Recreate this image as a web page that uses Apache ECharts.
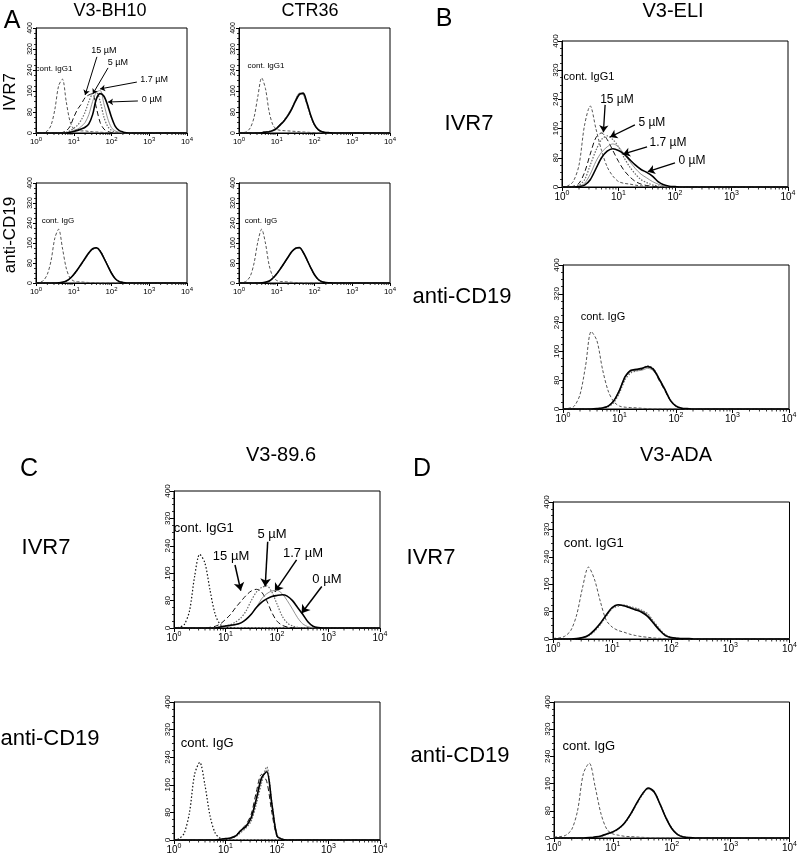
<!DOCTYPE html>
<html><head><meta charset="utf-8">
<script src="https://cdn.jsdelivr.net/npm/echarts@6/dist/echarts.min.js"></script>
<style>html,body{margin:0;padding:0;background:#fff}#c{width:800px;height:858px}</style>
</head><body><div id="c"></div>
<script>
// shared fluorescence intensity grid (log spaced, 0.1 decade)
const xs = [1,1.26,1.58,2,2.51,3.16,3.98,5.01,6.31,7.94,10,12.6,15.8,20,25.1,31.6,39.8,50.1,63.1,79.4,100,126,158,200,251,316,398,501,631,794,1000,10000];

// A: V3-BH10, IVR7
const a1Cont = [0,0,2,8,30,90,180,205,120,45, 15,10,8,8,6,5,4,3,2,1, 1,0,0,0,0,0,0,0,0,0, 0,0];
const a1M15  = [0,0,0,0,0,0,0,2,8,25, 60,90,110,135,145,150,95,40,15,6, 2,0,0,0,0,0,0,0,0,0, 0,0];
const a1M5   = [0,0,0,0,0,0,0,0,3,8, 18,30,50,80,120,150,155,120,60,25, 10,4,1,0,0,0,0,0,0,0, 0,0];
const a1M17  = [0,0,0,0,0,0,0,0,0,5, 10,15,25,40,70,120,155,162,110,55, 20,8,3,1,0,0,0,0,0,0, 0,0];
const a1M0   = [0,0,0,0,0,0,0,0,0,3, 6,10,15,22,35,70,130,150,140,105, 60,25,10,4,1,0,0,0,0,0, 0,0];
// A: CTR36, IVR7
const a2Cont = [0,1,5,20,60,140,210,170,80,30, 14,10,9,8,7,6,5,4,3,2, 1,0,0,0,0,0,0,0,0,0, 0,0];
const a2M15  = [0,0,0,0,0,0,2,4,7,11, 20,35,50,70,95,125,150,148,110,65, 30,12,4,1,0,0,0,0,0,0, 0,0];
const a2M5   = [0,0,0,0,0,0,2,4,6,10, 19,33,48,68,93,124,148,150,112,66, 31,12,4,1,0,0,0,0,0,0, 0,0];
const a2M17  = [0,0,0,0,0,0,1,3,6,10, 20,34,50,72,97,128,152,146,108,63, 29,11,4,1,0,0,0,0,0,0, 0,0];
const a2M0   = [0,0,0,0,0,0,1,3,5,9, 18,32,47,67,92,122,147,152,115,68, 32,13,5,2,1,0,0,0,0,0, 0,0];
// A: V3-BH10, anti-CD19
const a3Cont = [1,3,10,35,90,180,215,140,60,20, 8,5,4,3,2,2,1,0,0,0, 0,0,0,0,0,0,0,0,0,0, 0,0];
const a3M15  = [0,0,0,0,0,0,1,3,8,18, 35,55,75,98,120,135,140,128,100,70, 40,18,6,2,0,0,0,0,0,0, 0,0];
const a3M5   = [0,0,0,0,0,0,1,3,7,17, 33,53,74,97,119,136,142,130,101,69, 39,17,6,2,0,0,0,0,0,0, 0,0];
const a3M17  = [0,0,0,0,0,0,1,2,7,16, 32,52,73,96,118,134,139,129,102,71, 41,18,7,2,1,0,0,0,0,0, 0,0];
const a3M0   = [0,0,0,0,0,0,1,3,8,18, 34,54,76,99,121,137,141,127,99,69, 39,17,6,2,0,0,0,0,0,0, 0,0];
// A: CTR36, anti-CD19
const a4Cont = [1,2,8,28,80,165,215,160,70,25, 10,6,5,4,3,2,1,0,0,0, 0,0,0,0,0,0,0,0,0,0, 0,0];
const a4M15  = [0,0,0,0,0,0,1,3,8,20, 38,58,80,104,125,138,140,122,92,60, 32,14,5,2,0,0,0,0,0,0, 0,0];
const a4M5   = [0,0,0,0,0,0,1,3,7,19, 36,57,79,103,124,139,141,123,93,61, 33,14,5,1,0,0,0,0,0,0, 0,0];
const a4M17  = [0,0,0,0,0,0,1,2,7,18, 35,56,78,102,123,137,139,124,95,63, 34,15,6,2,0,0,0,0,0,0, 0,0];
const a4M0   = [0,0,0,0,0,0,1,3,8,20, 37,58,80,104,126,139,142,123,93,61, 33,14,5,2,1,0,0,0,0,0, 0,0];
// B: V3-ELI, IVR7
const b1Cont = [0,3,15,60,170,222,160,100,55,30, 15,10,8,5,3,2,1,0,0,0, 0,0,0,0,0,0,0,0,0,0, 0,0];
const b1M15  = [0,0,2,10,40,90,135,148,130,100, 70,45,28,15,8,4,2,1,0,0, 0,0,0,0,0,0,0,0,0,0, 0,0];
const b1M5   = [0,0,0,5,20,60,100,130,140,130, 110,80,55,35,20,12,6,3,1,0, 0,0,0,0,0,0,0,0,0,0, 0,0];
const b1M17  = [0,0,0,2,10,35,70,95,110,118, 110,90,70,50,35,25,15,8,3,1, 0,0,0,0,0,0,0,0,0,0, 0,0];
const b1M0   = [0,0,0,1,5,20,50,80,98,105, 100,90,75,60,48,40,30,15,6,2, 1,0,0,0,0,0,0,0,0,0, 0,0];
// B: V3-ELI, anti-CD19
const b2Cont = [0,2,8,40,120,215,190,110,50,20, 8,5,4,3,2,1,0,0,0,0, 0,0,0,0,0,0,0,0,0,0, 0,0];
const b2M15  = [0,0,0,0,0,0,1,3,8,22, 50,88,105,108,110,117,108,80,52,24, 8,2,0,0,0,0,0,0,0,0, 0,0];
const b2M5   = [0,0,0,0,0,0,1,2,6,18, 45,82,100,106,112,120,112,85,56,26, 9,2,0,0,0,0,0,0,0,0, 0,0];
const b2M17  = [0,0,0,0,0,0,1,3,9,24, 54,92,108,106,108,113,106,82,55,25, 8,2,0,0,0,0,0,0,0,0, 0,0];
const b2M0   = [0,0,0,0,0,0,1,3,8,23, 52,90,107,110,113,118,110,84,55,24, 8,2,1,0,0,0,0,0,0,0, 0,0];
// C: V3-89.6, IVR7
const c1Cont = [0,2,10,50,150,215,190,110,40,10, 3,1,0,0,0,0,0,0,0,0, 0,0,0,0,0,0,0,0,0,0, 0,0];
const c1M15  = [0,0,0,0,0,0,0,2,5,12, 25,40,60,78,95,108,113,105,80,45, 20,8,3,1,0,0,0,0,0,0, 0,0];
const c1M5   = [0,0,0,0,0,0,0,0,0,3, 6,10,18,30,50,80,105,118,123,105, 70,35,15,6,2,1,0,0,0,0, 0,0];
const c1M17  = [0,0,0,0,0,0,0,0,0,2, 4,6,10,15,25,40,60,85,100,108, 110,100,80,55,30,12,4,1,0,0, 0,0];
const c1M0   = [0,0,0,0,0,0,0,0,0,3, 6,8,10,15,25,40,60,75,85,92, 95,97,93,80,60,40,18,5,1,0, 0,0];
// C: V3-89.6, anti-CD19
const c2Cont = [0,4,20,80,190,225,160,70,20,5, 2,0,0,0,0,0,0,0,0,0, 0,0,0,0,0,0,0,0,0,0, 0,0];
const c2M15  = [0,0,0,0,0,0,0,0,0,2, 4,7,14,30,45,75,140,190,170,80, 10,2,0,0,0,0,0,0,0,0, 0,0];
const c2M5   = [0,0,0,0,0,0,0,0,0,1, 3,5,10,22,35,55,105,165,212,110, 15,3,0,0,0,0,0,0,0,0, 0,0];
const c2M17  = [0,0,0,0,0,0,0,0,0,2, 4,6,11,26,38,62,115,175,202,100, 12,2,0,0,0,0,0,0,0,0, 0,0];
const c2M0   = [0,0,0,0,0,0,0,0,0,2, 4,6,12,28,40,65,120,180,198,105, 12,2,0,0,0,0,0,0,0,0, 0,0];
// D: V3-ADA, IVR7
const d1Cont = [2,3,8,25,70,150,210,175,110,55, 35,25,20,14,10,7,5,3,2,1, 0,0,0,0,0,0,0,0,0,0, 0,0];
const d1M15  = [0,0,0,0,1,3,10,25,45,70, 90,98,97,92,88,82,70,48,28,12, 4,2,1,1,0,0,0,0,0,0, 0,0];
const d1M5   = [0,0,0,0,1,3,9,22,42,66, 88,96,99,95,90,84,74,52,30,13, 5,2,1,1,0,0,0,0,0,0, 0,0];
const d1M17  = [0,0,0,0,1,3,10,24,44,68, 90,100,98,92,86,80,70,50,28,11, 4,2,1,0,0,0,0,0,0,0, 0,0];
const d1M0   = [0,0,0,0,1,4,11,26,46,70, 92,100,97,91,85,78,66,46,26,10, 4,2,1,1,0,0,0,0,0,0, 0,0];
// D: V3-ADA, anti-CD19
const d2Cont = [3,4,8,25,80,190,220,150,70,25, 12,8,5,4,3,2,1,0,0,0, 0,0,0,0,0,0,0,0,0,0, 0,0];
const d2M15  = [0,0,0,0,0,0,1,3,6,12, 18,28,45,70,100,128,145,135,100,60, 28,10,3,1,0,0,0,0,0,0, 0,0];
const d2M5   = [0,0,0,0,0,0,1,3,5,11, 17,27,43,68,98,126,146,137,102,62, 30,11,4,1,0,0,0,0,0,0, 0,0];
const d2M17  = [0,0,0,0,0,0,1,2,6,12, 19,29,46,72,102,130,144,133,98,58, 27,10,3,1,0,0,0,0,0,0, 0,0];
const d2M0   = [0,0,0,0,0,0,1,3,6,12, 18,28,44,70,101,129,147,136,100,60, 28,10,3,1,0,0,0,0,0,0, 0,0];

// axis ticks
const yTicks = [0,80,160,240,320,400];
const xMinorTicks = [2,3,4,5,6,7,8,9,20,30,40,50,60,70,80,90,200,300,400,500,600,700,800,900,2000,3000,4000,5000,6000,7000,8000,9000];

// annotations: [text, x, y] and arrows [x1,y1,x2,y2] in data units
const a1Notes = [['cont. IgG1',3.0,244],['15 µM',63,316],['5 µM',148,270],['1.7 µM',1340,202],['0 µM',1180,126]];
const a1Arrows = [[41,290,20,145],[81,248,32,149],[470,194,50,168],[500,122,81,118]];
const a2Notes = [['cont. IgG1',5.2,255]];
const a3Notes = [['cont. IgG',3.8,248]];
const a4Notes = [['cont. IgG',3.8,248]];
const b1Notes = [['cont. IgG1',3.0,301],['15 µM',9.4,238],['5 µM',39,175],['1.7 µM',75,121],['0 µM',200,71]];
const b1Arrows = [[5.8,225,5.4,150],[19.5,170,7.1,137],[32,110,12,90],[100,66,33,42]];
const b2Notes = [['cont. IgG',5.1,256]];
const c1Notes = [['cont. IgG1',3.8,292],['15 µM',12.8,210],['5 µM',80,274],['1.7 µM',320,219],['0 µM',930,143]];
const c1Arrows = [[15.3,184,19.8,109],[66,252,59,121],[240,199,91,106],[740,121,300,43]];
const c2Notes = [['cont. IgG',4.4,281]];
const d1Notes = [['cont. IgG1',4.9,280]];
const d2Notes = [['cont. IgG',3.9,268]];

const FONT = '"Liberation Sans", Arial, Helvetica, sans-serif';
const STY = {
  cont:    {color:'#555', width:1, type:[3,2]},
  contDot: {color:'#111', width:1.2, type:[1.5,2]},
  m15:     {color:'#111', width:1, type:[5,3]},
  m5:      {color:'#666', width:1.2, type:[1.5,1.5]},
  m17:     {color:'#888', width:0.9, type:'solid'},
  m0:      {color:'#000', width:1.6, type:'solid'}
};
function std(cont, m15, m5, m17, m0, contStyle, contName){
  return [[contName, cont, contStyle],['15 µM', m15, 'm15'],['5 µM', m5, 'm5'],['1.7 µM', m17, 'm17'],['0 µM', m0, 'm0']];
}
const panels = [
  {box:[36,28,151,105], size:'s', lines:std(a1Cont,a1M15,a1M5,a1M17,a1M0,'cont','cont. IgG1'), notes:a1Notes, arrows:a1Arrows},
  {box:[239,28,151,105], size:'s', lines:std(a2Cont,a2M15,a2M5,a2M17,a2M0,'cont','cont. IgG1'), notes:a2Notes, arrows:[]},
  {box:[36,183,151,100], size:'s', lines:std(a3Cont,a3M15,a3M5,a3M17,a3M0,'cont','cont. IgG'), notes:a3Notes, arrows:[]},
  {box:[239,183,151,100], size:'s', lines:std(a4Cont,a4M15,a4M5,a4M17,a4M0,'cont','cont. IgG'), notes:a4Notes, arrows:[]},
  {box:[562,41,226,146], size:'b', lines:std(b1Cont,b1M15,b1M5,b1M17,b1M0,'cont','cont. IgG1'), notes:b1Notes, arrows:b1Arrows},
  {box:[563,265,226,144], size:'b', lines:std(b2Cont,b2M15,b2M5,b2M17,b2M0,'cont','cont. IgG'), notes:b2Notes, arrows:[]},
  {box:[174,491,206,137], size:'c', lines:std(c1Cont,c1M15,c1M5,c1M17,c1M0,'contDot','cont. IgG1'), notes:c1Notes, arrows:c1Arrows},
  {box:[174,702,206,138], size:'c', lines:std(c2Cont,c2M15,c2M5,c2M17,c2M0,'contDot','cont. IgG'), notes:c2Notes, arrows:[]},
  {box:[553,502,238,137], size:'c', lines:std(d1Cont,d1M15,d1M5,d1M17,d1M0,'cont','cont. IgG1'), notes:d1Notes, arrows:[]},
  {box:[554,702,236,136], size:'c', lines:std(d2Cont,d2M15,d2M5,d2M17,d2M0,'cont','cont. IgG'), notes:d2Notes, arrows:[]}
];
const SIZES = {
  s:{xl:8, sup:6, yl:7, note:8, arrowNote:9, aw:1, head:5, tick:3, mtick:2},
  b:{xl:10, sup:7, yl:8, note:11, arrowNote:12, aw:1.3, head:7, tick:4, mtick:2.5},
  c:{xl:10, sup:7, yl:8, note:13, arrowNote:13, aw:1.5, head:8, tick:4, mtick:2.5}
};
const headings = [
  ['A', 12, 21, 25, 0], ['V3-BH10', 110, 11, 18, 0], ['CTR36', 310, 11, 18, 0],
  ['IVR7', 10, 92, 17, 90], ['anti-CD19', 10, 235, 17, 90],
  ['B', 444, 19, 25, 0], ['V3-ELI', 673, 11, 20, 0], ['IVR7', 469, 124, 22, 0], ['anti-CD19', 462, 297, 22, 0],
  ['C', 29, 469, 25, 0], ['V3-89.6', 281, 455, 20, 0], ['IVR7', 46, 548, 22, 0], ['anti-CD19', 50, 739, 22, 0],
  ['D', 422, 469, 25, 0], ['V3-ADA', 676, 455, 20, 0], ['IVR7', 431, 558, 22, 0], ['anti-CD19', 460, 756, 22, 0]
];

const grid = [], xAxis = [], yAxis = [], series = [];
panels.forEach((p, i) => {
  const S = SIZES[p.size];
  grid.push({left:p.box[0], top:p.box[1], width:p.box[2], height:p.box[3], show:true, borderColor:'#000', borderWidth:1, backgroundColor:'rgba(0,0,0,0)'});
  xAxis.push({
    type:'log', logBase:10, gridIndex:i, min:1, max:10000,
    axisLine:{show:true, onZero:false, lineStyle:{color:'#000', width:1}},
    axisTick:{show:true, inside:false, length:S.tick, lineStyle:{color:'#000', width:1}},
    splitLine:{show:false},
    axisLabel:{show:true, color:'#000', fontSize:S.xl, fontFamily:FONT, margin:3,
      formatter: v => '10{s|' + Math.round(Math.log10(v)) + '}',
      rich:{s:{fontSize:S.sup, fontFamily:FONT, color:'#000', padding:[0,0,S.sup,0]}}}
  });
  yAxis.push({
    type:'value', gridIndex:i, min:yTicks[0], max:yTicks[yTicks.length-1], interval:80,
    axisLine:{show:true, lineStyle:{color:'#000', width:1}},
    axisTick:{show:true, inside:false, length:S.tick, lineStyle:{color:'#000', width:1}},
    minorTick:{show:true, splitNumber:4, length:2, lineStyle:{color:'#000', width:0.8}},
    splitLine:{show:false},
    axisLabel:{show:true, rotate:90, color:'#000', fontSize:S.yl, fontFamily:FONT, margin:2}
  });
  // log minor ticks on the x axis (2..9 x 10^n)
  series.push({
    type:'custom', xAxisIndex:i, yAxisIndex:i, silent:true, clip:false, animation:false,
    data: xMinorTicks.map(v => [v, 0]),
    renderItem: (params, api) => {
      const pt = api.coord([api.value(0), 0]);
      return {type:'line', shape:{x1:pt[0], y1:pt[1], x2:pt[0], y2:pt[1] + S.mtick},
              style:{stroke:'#000', lineWidth:0.8}};
    }
  });
  p.lines.forEach((ln, k) => {
    const s = {
      type:'line', name:ln[0], xAxisIndex:i, yAxisIndex:i,
      data: xs.map((x, j) => [x, ln[1][j]]),
      showSymbol:false, symbol:'none', smooth:0.3, animation:false, silent:true,
      lineStyle:Object.assign({}, STY[ln[2]]), z: 2 + k
    };
    if (k === 0) {
      s.markPoint = {
        symbol:'circle', symbolSize:1, itemStyle:{color:'rgba(0,0,0,0)'}, silent:true, animation:false,
        label:{show:true, position:'inside', formatter:'{b}', color:'#000', fontFamily:FONT},
        data: p.notes.map((n, q) => ({name:n[0], coord:[n[1], n[2]],
          label:{fontSize: q === 0 ? S.note : S.arrowNote}}))
      };
      if (p.arrows.length) {
        s.markLine = {
          silent:true, animation:false, symbol:['none','arrow'], symbolSize:S.head,
          label:{show:false}, lineStyle:{type:'solid', color:'#000', width:S.aw},
          data: p.arrows.map(a => [{coord:[a[0], a[1]]}, {coord:[a[2], a[3]]}])
        };
      }
    }
    series.push(s);
  });
});

const graphic = headings.map(h => ({
  type:'text', x:h[1], y:h[2], rotation: h[4] ? Math.PI/2 : 0, silent:true,
  style:{text:h[0], fontSize:h[3], fontFamily:FONT, fill:'#000', textAlign:'center', textVerticalAlign:'middle'}
}));

const chart = echarts.init(document.getElementById('c'));
chart.setOption({backgroundColor:'#fff', animation:false, grid, xAxis, yAxis, series, graphic});
</script></body></html>
